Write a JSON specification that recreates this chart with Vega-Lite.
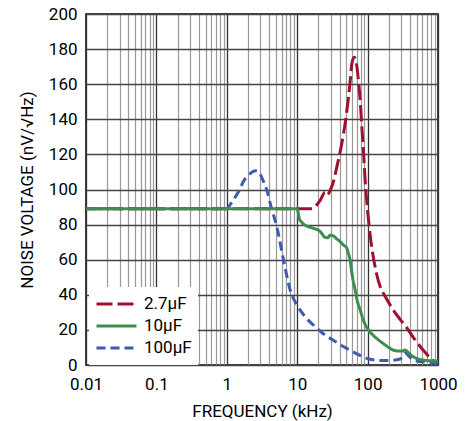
{
  "$schema": "https://vega.github.io/schema/vega-lite/v6.json",
  "width": 352,
  "height": 351,
  "autosize": "none",
  "padding": {"left": 86, "top": 14, "right": 35, "bottom": 56},
  "background": "white",
  "config": {
    "font": "Roboto",
    "view": {"stroke": "black", "strokeWidth": 1.5},
    "axis": {"domain": false, "ticks": false, "labelFontSize": 17, "titleFontSize": 17, "labelColor": "black", "titleColor": "black", "titleFontWeight": "normal", "labelFont": "Roboto", "titleFont": "Roboto"}
  },
  "datasets": {
    "curves": [
      {"f": 0.01, "v": 89, "c": "2.7µF"}, {"f": 10, "v": 89, "c": "2.7µF"}, {"f": 15, "v": 89, "c": "2.7µF"}, {"f": 17, "v": 89.5, "c": "2.7µF"},
      {"f": 21.3, "v": 94, "c": "2.7µF"}, {"f": 24.9, "v": 98.4, "c": "2.7µF"}, {"f": 26.8, "v": 96.8, "c": "2.7µF"}, {"f": 29.5, "v": 99.7, "c": "2.7µF"},
      {"f": 33, "v": 105, "c": "2.7µF"}, {"f": 36.6, "v": 113, "c": "2.7µF"}, {"f": 41, "v": 122, "c": "2.7µF"}, {"f": 45.6, "v": 132, "c": "2.7µF"},
      {"f": 50, "v": 143, "c": "2.7µF"}, {"f": 53.7, "v": 153, "c": "2.7µF"}, {"f": 57, "v": 163, "c": "2.7µF"}, {"f": 59.9, "v": 172, "c": "2.7µF"},
      {"f": 64.5, "v": 175.3, "c": "2.7µF"}, {"f": 68, "v": 174, "c": "2.7µF"}, {"f": 70.4, "v": 170, "c": "2.7µF"}, {"f": 75, "v": 160, "c": "2.7µF"},
      {"f": 78.4, "v": 151, "c": "2.7µF"}, {"f": 83, "v": 135, "c": "2.7µF"}, {"f": 87.2, "v": 122.5, "c": "2.7µF"}, {"f": 92, "v": 106, "c": "2.7µF"},
      {"f": 97, "v": 94, "c": "2.7µF"}, {"f": 108, "v": 75, "c": "2.7µF"}, {"f": 120, "v": 62, "c": "2.7µF"}, {"f": 134, "v": 52, "c": "2.7µF"},
      {"f": 150, "v": 45, "c": "2.7µF"}, {"f": 168, "v": 40.8, "c": "2.7µF"}, {"f": 200, "v": 35.5, "c": "2.7µF"}, {"f": 232, "v": 31.3, "c": "2.7µF"},
      {"f": 290, "v": 26, "c": "2.7µF"}, {"f": 351, "v": 21.8, "c": "2.7µF"}, {"f": 450, "v": 15.5, "c": "2.7µF"}, {"f": 561, "v": 10.4, "c": "2.7µF"},
      {"f": 680, "v": 6.5, "c": "2.7µF"}, {"f": 778, "v": 3.8, "c": "2.7µF"}, {"f": 900, "v": 2, "c": "2.7µF"}, {"f": 1000, "v": 1.3, "c": "2.7µF"},

      {"f": 0.01, "v": 89, "c": "100µF"}, {"f": 1, "v": 89, "c": "100µF"}, {"f": 1.1, "v": 91, "c": "100µF"}, {"f": 1.24, "v": 94, "c": "100µF"},
      {"f": 1.5, "v": 99.5, "c": "100µF"}, {"f": 1.72, "v": 104.5, "c": "100µF"}, {"f": 2.14, "v": 109, "c": "100µF"}, {"f": 2.53, "v": 110.7, "c": "100µF"},
      {"f": 2.9, "v": 109.5, "c": "100µF"}, {"f": 3.2, "v": 106, "c": "100µF"}, {"f": 3.7, "v": 99.7, "c": "100µF"}, {"f": 4.3, "v": 89.5, "c": "100µF"},
      {"f": 5.13, "v": 78.8, "c": "100µF"}, {"f": 6.4, "v": 59.8, "c": "100µF"}, {"f": 7.95, "v": 42.7, "c": "100µF"}, {"f": 10, "v": 34, "c": "100µF"},
      {"f": 13, "v": 27.5, "c": "100µF"}, {"f": 19, "v": 21, "c": "100µF"}, {"f": 25, "v": 17, "c": "100µF"}, {"f": 32.9, "v": 14, "c": "100µF"},
      {"f": 43, "v": 11, "c": "100µF"}, {"f": 56, "v": 8.5, "c": "100µF"}, {"f": 75, "v": 5.8, "c": "100µF"}, {"f": 97, "v": 3.8, "c": "100µF"},
      {"f": 130, "v": 2.8, "c": "100µF"}, {"f": 168, "v": 2.5, "c": "100µF"}, {"f": 230, "v": 2.7, "c": "100µF"}, {"f": 290, "v": 3.4, "c": "100µF"},
      {"f": 320, "v": 5.5, "c": "100µF"}, {"f": 345, "v": 6.8, "c": "100µF"}, {"f": 380, "v": 5.3, "c": "100µF"}, {"f": 430, "v": 3.3, "c": "100µF"},
      {"f": 503, "v": 2.3, "c": "100µF"}, {"f": 700, "v": 1.5, "c": "100µF"}, {"f": 1000, "v": 1, "c": "100µF"},

      {"f": 0.01, "v": 89, "c": "10µF"}, {"f": 10, "v": 89, "c": "10µF"}, {"f": 10.4, "v": 86, "c": "10µF"}, {"f": 10.7, "v": 83.6, "c": "10µF"},
      {"f": 11.5, "v": 81.5, "c": "10µF"}, {"f": 12.3, "v": 80.3, "c": "10µF"}, {"f": 14, "v": 79, "c": "10µF"}, {"f": 17, "v": 77.9, "c": "10µF"},
      {"f": 21.3, "v": 76, "c": "10µF"}, {"f": 24.9, "v": 72.7, "c": "10µF"}, {"f": 27, "v": 72.5, "c": "10µF"}, {"f": 29.5, "v": 74, "c": "10µF"},
      {"f": 32.9, "v": 73.5, "c": "10µF"}, {"f": 36, "v": 72, "c": "10µF"}, {"f": 40.8, "v": 70.3, "c": "10µF"}, {"f": 45, "v": 68.5, "c": "10µF"},
      {"f": 50.7, "v": 66.5, "c": "10µF"}, {"f": 53, "v": 64, "c": "10µF"}, {"f": 56.4, "v": 59.8, "c": "10µF"}, {"f": 60, "v": 52, "c": "10µF"},
      {"f": 66.5, "v": 42.7, "c": "10µF"}, {"f": 72, "v": 36, "c": "10µF"}, {"f": 78.4, "v": 31.3, "c": "10µF"}, {"f": 88, "v": 25, "c": "10µF"},
      {"f": 97, "v": 21.5, "c": "10µF"}, {"f": 110, "v": 18.5, "c": "10µF"}, {"f": 134, "v": 15.2, "c": "10µF"}, {"f": 170, "v": 12, "c": "10µF"},
      {"f": 208, "v": 9.5, "c": "10µF"}, {"f": 240, "v": 8.3, "c": "10µF"}, {"f": 273, "v": 8, "c": "10µF"}, {"f": 310, "v": 8, "c": "10µF"},
      {"f": 340, "v": 8.5, "c": "10µF"}, {"f": 370, "v": 7.5, "c": "10µF"}, {"f": 410, "v": 5.8, "c": "10µF"}, {"f": 446, "v": 4.7, "c": "10µF"},
      {"f": 520, "v": 3.5, "c": "10µF"}, {"f": 620, "v": 2.8, "c": "10µF"}, {"f": 800, "v": 2.4, "c": "10µF"}, {"f": 1000, "v": 2.3, "c": "10µF"}
    ]
  },
  "data": {"name": "curves"},
  "encoding": {
    "x": {
      "field": "f", "type": "quantitative",
      "scale": {"type": "log", "domain": [0.01, 1000], "nice": false},
      "axis": {
        "title": "FREQUENCY (kHz)",
        "values": [0.01,0.02,0.03,0.04,0.05,0.06,0.07,0.08,0.09,0.1,0.2,0.3,0.4,0.5,0.6,0.7,0.8,0.9,1,2,3,4,5,6,7,8,9,10,20,30,40,50,60,70,80,90,100,200,300,400,500,600,700,800,900,1000],
        "labelExpr": "indexof([0.01,0.1,1,10,100,1000], datum.value) >= 0 ? format(datum.value, '') : ''",
        "labelOverlap": false,
        "labelFlush": false,
        "labelPadding": 11,
        "titlePadding": 11,
        "gridColor": {"condition": {"test": "indexof([0.01,0.1,1,10,100,1000], datum.value) >= 0", "value": "#333333"}, "value": "#999999"},
        "gridWidth": {"condition": {"test": "indexof([0.01,0.1,1,10,100,1000], datum.value) >= 0", "value": 1.3}, "value": 1.2},
        "gridOpacity": 1
      }
    },
    "y": {
      "field": "v", "type": "quantitative",
      "scale": {"domain": [0, 200], "nice": false},
      "axis": {
        "title": "NOISE VOLTAGE (nV/√Hz)",
        "values": [0,20,40,60,80,100,120,140,160,180,200],
        "labelPadding": 9,
        "titlePadding": 12,
        "gridColor": "#444444",
        "gridWidth": 1.3,
        "gridOpacity": 1
      }
    },
    "color": {
      "field": "c", "type": "nominal",
      "scale": {"domain": ["2.7µF", "10µF", "100µF"], "range": ["#A0102F", "#3C8E4E", "#3D5BB3"]},
      "legend": {
        "title": null, "orient": "none", "legendX": 3, "legendY": 273,
        "fillColor": "white", "padding": 6,
        "labelFontSize": 17, "labelFont": "Roboto", "labelColor": "black",
        "symbolType": "stroke", "symbolSize": 1600, "symbolStrokeWidth": 3, "labelOffset": 6,
        "clipHeight": 22, "rowPadding": 0
      }
    },
    "strokeDash": {
      "field": "c", "type": "nominal",
      "scale": {"domain": ["2.7µF", "10µF", "100µF"], "range": [[16, 5], [1, 0], [9, 5]]},
      "legend": null
    }
  },
  "layer": [
    {"transform": [{"filter": "datum.c == '2.7µF'"}], "mark": {"type": "line", "strokeWidth": 3, "interpolate": "monotone"}},
    {"transform": [{"filter": "datum.c == '100µF'"}], "mark": {"type": "line", "strokeWidth": 3, "interpolate": "monotone"}},
    {"transform": [{"filter": "datum.c == '10µF'"}], "mark": {"type": "line", "strokeWidth": 3, "interpolate": "monotone"}}
  ]
}
